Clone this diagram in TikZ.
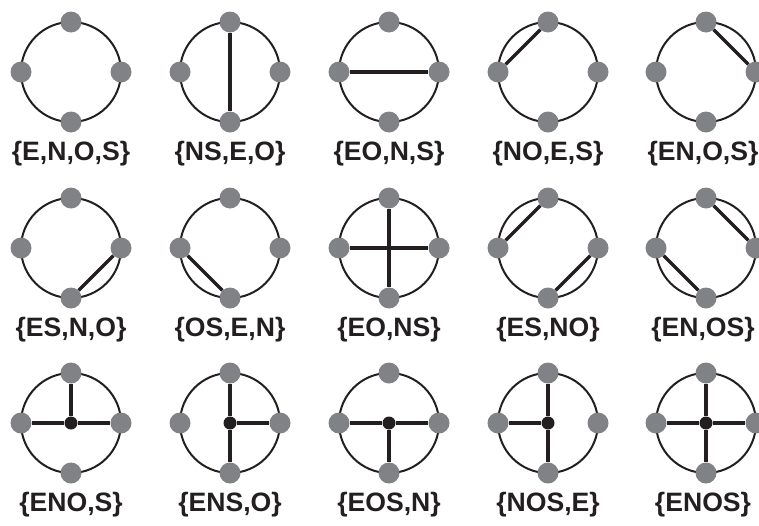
\documentclass[tikz,border=0pt]{standalone}
\usepackage{fontspec}
\setmainfont{Liberation Sans}
\usetikzlibrary{backgrounds}
\definecolor{ink}{HTML}{231F20}
\definecolor{dotgray}{HTML}{808285}
\newcommand\ringcell[5][0]{%
  \node[port] (#2N) at (#3,#4-50) {};
  \node[port] (#2S) at (#3,#4+50) {};
  \node[port] (#2E) at (#3+50,#4) {};
  \node[port] (#2O) at (#3-50,#4) {};
  \coordinate (#2c) at (#3,#4);
  \node[lbl] (#2L) at (#3+#1,#4+82) {#5};
  \begin{scope}[on background layer]
    \draw[ring] (#2c) circle[radius=50];
  \end{scope}}
\begin{document}
\begin{tikzpicture}[x=1pt,y=-1pt,
  ring/.style={draw=ink, line width=2pt},
  chord/.style={draw=ink, line width=3.5pt},
  port/.style={circle, fill=dotgray, minimum size=21pt, inner sep=0pt},
  hub/.style={circle, fill=ink, minimum size=13pt, inner sep=0pt},
  lbl/.style={font=\fontsize{26.6}{26.6}\selectfont\bfseries, text=ink, inner sep=0pt}]
\useasboundingbox (0,0) rectangle (759,525);
% row 1
\ringcell{a}{71}{72}{\{E,N,O,S\}}
\ringcell{b}{230}{72}{\{NS,E,O\}}
\ringcell{c}{389}{72}{\{EO,N,S\}}
\ringcell{d}{548}{72}{\{NO,E,S\}}
\ringcell[-3]{e}{706}{72}{\{EN,O,S\}}
% row 2
\ringcell{f}{71}{248}{\{ES,N,O\}}
\ringcell{g}{230}{248}{\{OS,E,N\}}
\ringcell{h}{389}{248}{\{EO,NS\}}
\ringcell{i}{548}{248}{\{ES,NO\}}
\ringcell[-3]{j}{706}{248}{\{EN,OS\}}
% row 3
\ringcell{k}{71}{423}{\{ENO,S\}}
\ringcell{l}{230}{423}{\{ENS,O\}}
\ringcell{m}{389}{423}{\{EOS,N\}}
\ringcell{n}{548}{423}{\{NOS,E\}}
\ringcell[-3]{o}{706}{423}{\{ENOS\}}
\node[hub] (kH) at (kc) {};
\node[hub] (lH) at (lc) {};
\node[hub] (mH) at (mc) {};
\node[hub] (nH) at (nc) {};
\node[hub] (oH) at (oc) {};
\begin{scope}[on background layer]
  \draw[chord] (bN) -- (bS);
  \draw[chord] (cO) -- (cE);
  \draw[chord] (dN) -- (dO);
  \draw[chord] (eN) -- (eE);
  \draw[chord] (fE) -- (fS);
  \draw[chord] (gO) -- (gS);
  \draw[chord] (hO) -- (hE);
  \draw[chord] (hN) -- (hS);
  \draw[chord] (iE) -- (iS);
  \draw[chord] (iN) -- (iO);
  \draw[chord] (jE) -- (jN);
  \draw[chord] (jO) -- (jS);
  \draw[chord] (kH) -- (kE);
  \draw[chord] (kH) -- (kN);
  \draw[chord] (kH) -- (kO);
  \draw[chord] (lH) -- (lE);
  \draw[chord] (lH) -- (lN);
  \draw[chord] (lH) -- (lS);
  \draw[chord] (mH) -- (mE);
  \draw[chord] (mH) -- (mO);
  \draw[chord] (mH) -- (mS);
  \draw[chord] (nH) -- (nN);
  \draw[chord] (nH) -- (nO);
  \draw[chord] (nH) -- (nS);
  \draw[chord] (oH) -- (oE);
  \draw[chord] (oH) -- (oN);
  \draw[chord] (oH) -- (oO);
  \draw[chord] (oH) -- (oS);
\end{scope}
\end{tikzpicture}
\end{document}
